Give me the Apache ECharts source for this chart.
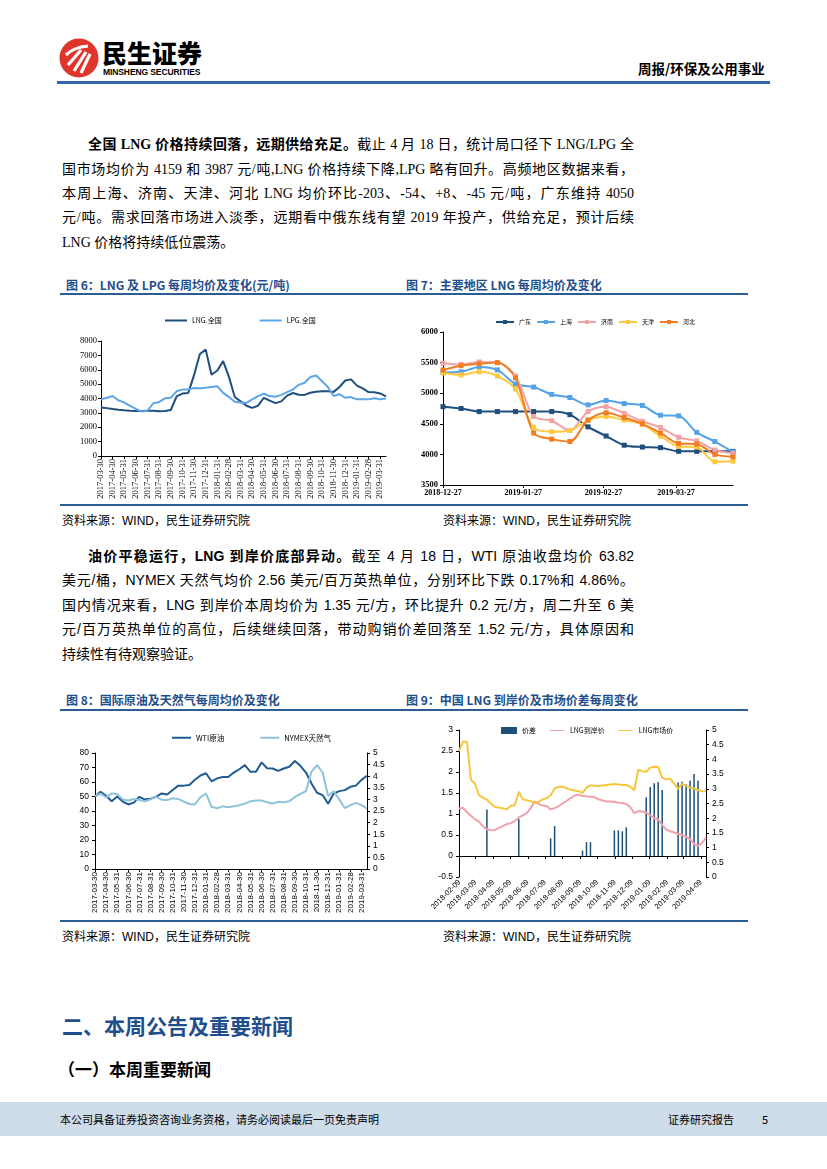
<!DOCTYPE html>
<html><head><meta charset="utf-8">
<script src="https://cdn.jsdelivr.net/npm/echarts@6/dist/echarts.min.js"></script>
<style>
body{margin:0;background:#fff;}
#page{position:relative;width:827px;height:1169px;overflow:hidden;font-family:"Noto Sans CJK SC",sans-serif;color:#000;background:#fff;}
.abs{position:absolute;white-space:nowrap;}
.ln{position:absolute;left:62px;width:572px;height:24px;font-size:14px;line-height:24px;text-align:justify;text-align-last:justify;overflow:visible;}
.p1{font-family:"Liberation Serif","Noto Sans CJK SC",serif;}
.p2{font-family:"Liberation Sans","Noto Sans CJK SC",sans-serif;}
.last{text-align-last:left;}
.ttl{position:absolute;font-size:12px;font-weight:700;color:#1F4E8C;white-space:nowrap;line-height:14px;}
.rule{position:absolute;left:60px;width:688px;height:2px;background:#2B5D93;}
.src{position:absolute;font-size:12px;line-height:14px;white-space:nowrap;font-family:"Liberation Sans","Noto Sans CJK SC",sans-serif;}
.chart{position:absolute;}
</style></head>
<body><div id="page">
<!-- header -->
<svg class="abs" style="left:59px;top:38px" width="40" height="40" viewBox="0 0 40 40">
<circle cx="20" cy="20" r="19.5" fill="#E0352B"/>
<path d="M7 17 Q15 9 29 8" stroke="#fff" stroke-width="3.2" fill="none"/>
<path d="M9 27 L22 12" stroke="#fff" stroke-width="3.2" fill="none"/>
<path d="M15 33 L27 14" stroke="#fff" stroke-width="3.2" fill="none"/>
<path d="M22 35 L31 16" stroke="#fff" stroke-width="3.2" fill="none"/>
</svg>
<div class="abs" style="left:102px;top:38px;font-size:25px;line-height:28px;font-weight:900;">民生证券</div>
<div class="abs" style="left:103px;top:68px;font-size:8.5px;line-height:9px;font-weight:700;font-family:'Liberation Sans',sans-serif;letter-spacing:-0.1px;">MINSHENG SECURITIES</div>
<div class="abs" style="left:638px;top:60px;font-size:13.5px;line-height:16px;font-weight:700;">周报/环保及公用事业</div>
<div class="abs" style="left:57px;top:81px;width:713px;height:3px;background:#3366A6;"></div>

<!-- paragraph 1 -->
<div class="ln p1" style="top:133px;left:88px;width:546px;"><b>全国 LNG 价格持续回落，远期供给充足。</b>截止 4 月 18 日，统计局口径下 LNG/LPG 全</div>
<div class="ln p1" style="top:158px;">国市场均价为 4159 和 3987 元/吨,LNG 价格持续下降,LPG 略有回升。高频地区数据来看，</div>
<div class="ln p1" style="top:182px;">本周上海、济南、天津、河北 LNG 均价环比-203、-54、+8、-45 元/吨，广东维持 4050</div>
<div class="ln p1" style="top:206px;">元/吨。需求回落市场进入淡季，远期看中俄东线有望 2019 年投产，供给充足，预计后续</div>
<div class="ln p1 last" style="top:231px;">LNG 价格将持续低位震荡。</div>

<!-- chart 6/7 titles -->
<div class="ttl" style="left:66px;top:278px;">图 6：LNG 及 LPG 每周均价及变化(元/吨)</div>
<div class="ttl" style="left:406px;top:278px;">图 7：主要地区 LNG 每周均价及变化</div>
<div class="rule" style="top:293px;"></div>
<div id="c6" class="chart" style="left:60px;top:298px;width:335px;height:207px;"></div>
<div id="c7" class="chart" style="left:400px;top:298px;width:355px;height:207px;"></div>
<div class="rule" style="top:504px;"></div>
<div class="src" style="left:62px;top:514px;">资料来源：WIND，民生证券研究院</div>
<div class="src" style="left:443px;top:514px;">资料来源：WIND，民生证券研究院</div>

<!-- paragraph 2 -->
<div class="ln p2" style="top:544px;left:88px;width:546px;"><b>油价平稳运行，LNG 到岸价底部异动。</b>截至 4 月 18 日，WTI 原油收盘均价 63.82</div>
<div class="ln p2" style="top:568px;">美元/桶，NYMEX 天然气均价 2.56 美元/百万英热单位，分别环比下跌 0.17%和 4.86%。</div>
<div class="ln p2" style="top:593px;">国内情况来看，LNG 到岸价本周均价为 1.35 元/方，环比提升 0.2 元/方，周二升至 6 美</div>
<div class="ln p2" style="top:617px;">元/百万英热单位的高位，后续继续回落，带动购销价差回落至 1.52 元/方，具体原因和</div>
<div class="ln p2 last" style="top:642px;">持续性有待观察验证。</div>

<!-- chart 8/9 titles -->
<div class="ttl" style="left:66px;top:693px;">图 8：国际原油及天然气每周均价及变化</div>
<div class="ttl" style="left:406px;top:693px;">图 9：中国 LNG 到岸价及市场价差每周变化</div>
<div class="rule" style="top:709px;"></div>
<div id="c8" class="chart" style="left:60px;top:712px;width:340px;height:208px;"></div>
<div id="c9" class="chart" style="left:400px;top:712px;width:355px;height:208px;"></div>
<div class="rule" style="top:920px;"></div>
<div class="src" style="left:62px;top:930px;">资料来源：WIND，民生证券研究院</div>
<div class="src" style="left:443px;top:930px;">资料来源：WIND，民生证券研究院</div>

<!-- headings -->
<div class="abs" style="left:62px;top:1012px;font-size:21px;line-height:26px;font-weight:700;color:#1F4E8C;">二、本周公告及重要新闻</div>
<div class="abs" style="left:58px;top:1058px;font-size:17px;line-height:22px;font-weight:700;">（一）本周重要新闻</div>

<!-- footer -->
<div class="abs" style="left:0;top:1102px;width:827px;height:34px;background:#CEDBE9;"></div>
<div class="abs" style="left:60px;top:1112px;font-size:11px;line-height:14px;">本公司具备证券投资咨询业务资格，请务必阅读最后一页免责声明</div>
<div class="abs" style="left:668px;top:1112px;font-size:11px;line-height:14px;">证券研究报告</div>
<div class="abs" style="left:762px;top:1112px;font-size:11px;line-height:14px;">5</div>
</div>
<script>
// ---------- data ----------
const halfMonthDates = ['2017-03-30','2017-04-15','2017-04-30','2017-05-15','2017-05-31','2017-06-15','2017-06-30','2017-07-15','2017-07-31','2017-08-15','2017-08-31','2017-09-15','2017-09-30','2017-10-15','2017-10-31','2017-11-15','2017-11-30','2017-12-15','2017-12-31','2018-01-15','2018-01-31','2018-02-15','2018-02-28','2018-03-15','2018-03-31','2018-04-15','2018-04-30','2018-05-15','2018-05-31','2018-06-15','2018-06-30','2018-07-15','2018-07-31','2018-08-15','2018-08-31','2018-09-15','2018-09-30','2018-10-15','2018-10-31','2018-11-15','2018-11-30','2018-12-15','2018-12-31','2019-01-15','2019-01-31','2019-02-15','2019-02-28','2019-03-15','2019-03-31','2019-04-15'];
const lngNational = [3380,3330,3270,3220,3180,3150,3130,3130,3150,3150,3110,3130,3200,4150,4340,4390,5630,7100,7400,5650,5950,6600,5500,4100,3800,3500,3350,3500,4050,3850,3680,3800,4200,4380,4260,4250,4400,4470,4500,4500,4460,4800,5250,5330,4900,4700,4450,4440,4350,4150];
const lpgNational = [3940,4050,4170,3870,3720,3490,3270,3090,3150,3670,3760,4010,4050,4500,4620,4620,4730,4710,4750,4800,4850,4390,4100,3780,3720,3690,3940,4170,4330,4170,4120,4250,4440,4620,4950,5100,5500,5600,5200,4800,4170,4300,4050,4100,3940,3940,3940,4010,3940,4000];

const c7Dates = ['2018-12-27','2019-01-03','2019-01-10','2019-01-17','2019-01-24','2019-01-31','2019-02-07','2019-02-14','2019-02-21','2019-02-28','2019-03-07','2019-03-14','2019-03-21','2019-03-28','2019-04-04','2019-04-11','2019-04-18'];
const c7TickLabels = ['2018-12-27','2019-01-27','2019-02-27','2019-03-27'];
const guangdong = [4780,4750,4700,4700,4700,4700,4700,4650,4450,4300,4150,4120,4110,4050,4050,4050,4050];
const shanghai  = [5340,5350,5430,5380,5150,5100,4980,4930,4810,4880,4830,4800,4640,4630,4360,4210,4040];
const jinan     = [5490,5470,5510,5500,5280,4620,4550,4390,4700,4780,4670,4540,4440,4280,4220,4070,4020];
const tianjin   = [5330,5300,5350,5280,5070,4440,4370,4390,4560,4620,4560,4490,4300,4130,4120,3880,3890];
const hebei     = [5380,5450,5480,5500,5250,4350,4250,4210,4560,4680,4600,4500,4350,4180,4170,4000,3960];

const wtiOil = [49.8,53.3,50.5,46.7,50.0,46.5,44.5,45.8,49.8,47.9,48.4,49.8,52.1,51.4,54.5,57.5,57.5,58.0,61.5,64.5,66.0,60.5,62.5,63.5,63.5,66.5,68.8,71.6,67.0,67.0,73.5,69.5,69.3,67.7,69.3,70.5,74.5,71.2,66.5,59.0,52.6,51.0,45.0,52.0,53.7,54.4,56.7,57.5,61.5,64.3];
const nymexGas = [3.14,3.25,3.08,3.26,3.22,3.00,2.95,3.02,2.97,2.92,3.00,3.11,2.99,2.97,3.05,3.02,2.90,2.80,2.78,3.10,3.25,2.68,2.62,2.70,2.66,2.70,2.75,2.82,2.92,2.95,2.95,2.88,2.82,2.90,2.88,2.92,3.10,3.24,3.35,4.20,4.48,4.16,3.15,3.35,3.00,2.63,2.75,2.85,2.75,2.60];

const c9Dates = ['2018-02-08','2018-02-15','2018-02-22','2018-03-01','2018-03-08','2018-03-15','2018-03-22','2018-03-29','2018-04-05','2018-04-12','2018-04-19','2018-04-26','2018-05-03','2018-05-10','2018-05-17','2018-05-24','2018-05-31','2018-06-07','2018-06-14','2018-06-21','2018-06-28','2018-07-05','2018-07-12','2018-07-19','2018-07-26','2018-08-02','2018-08-09','2018-08-16','2018-08-23','2018-08-30','2018-09-06','2018-09-13','2018-09-20','2018-09-27','2018-10-04','2018-10-11','2018-10-18','2018-10-25','2018-11-01','2018-11-08','2018-11-15','2018-11-22','2018-11-29','2018-12-06','2018-12-13','2018-12-20','2018-12-27','2019-01-03','2019-01-10','2019-01-17','2019-01-24','2019-01-31','2019-02-07','2019-02-14','2019-02-21','2019-02-28','2019-03-07','2019-03-14','2019-03-21','2019-03-28','2019-04-04','2019-04-11','2019-04-18'];
const c9TickLabels = ['2018-02-09','2018-03-09','2018-04-09','2018-05-09','2018-06-09','2018-07-09','2018-08-09','2018-09-09','2018-10-09','2018-11-09','2018-12-09','2019-01-09','2019-02-09','2019-03-09','2019-04-09'];
const priceSpread = [0,0,0,0,0,0,0,1.11,0,0,0,0,0,0,0,0.88,0,0,0,0,0,0,0,0.42,0.71,0,0,0,0,0,0,0.13,0.33,0.33,0,0,0,0,0,0.61,0.61,0.59,0.68,0,0,0,0,1.40,1.64,1.73,1.76,1.57,0,0,0,1.75,1.77,1.71,1.80,1.95,1.80,0,0];
const lngLanded = [1.13,1.15,1.04,0.96,0.88,0.82,0.71,0.63,0.61,0.62,0.67,0.71,0.76,0.78,0.83,0.92,0.97,1.02,1.14,1.30,1.24,1.20,1.19,1.11,1.14,1.19,1.25,1.31,1.38,1.44,1.46,1.43,1.42,1.41,1.40,1.35,1.32,1.30,1.30,1.29,1.27,1.26,1.24,1.16,1.02,1.07,1.06,1.03,0.97,0.90,0.87,0.74,0.63,0.59,0.56,0.53,0.50,0.46,0.40,0.28,0.24,0.31,0.44];
const lngMarket = [4.28,4.60,4.60,3.30,3.18,2.78,2.70,2.63,2.50,2.38,2.36,2.34,2.30,2.42,2.44,2.90,2.64,2.61,2.58,2.52,2.56,2.64,2.68,2.78,3.01,3.07,3.07,3.02,2.97,2.94,2.92,2.86,3.04,3.12,3.10,3.09,3.11,3.13,3.15,3.16,3.15,3.13,3.13,3.08,2.95,3.65,3.60,3.58,3.72,3.75,3.74,3.38,3.32,3.35,3.18,3.00,3.17,3.10,3.04,3.01,2.95,2.92,2.92];

// ---------- helpers ----------
const BLACK = '#000';
const SERIF = 'Liberation Serif';
const SANS = 'Liberation Sans';
const CJK = 'Noto Sans CJK SC';
const ts = s => echarts.number.parseDate(s).getTime();
function labelFromTicks(labels){
  const vals = labels.map(ts);
  return {vals, fmt: v => { let best=0, d=Infinity; vals.forEach((t,i)=>{ const dd=Math.abs(t-v); if(dd<d){d=dd;best=i;} }); return labels[best]; }};
}
const plain = v => String(v);
const axisLineBlack = {show:true, lineStyle:{color:BLACK, width:1}};
const tickBlack = {show:true, length:3, lineStyle:{color:BLACK, width:1}};
// thin line-shaped legend icon inside a taller box (keeps text alignment)
const THIN_LINE_ICON = 'path://M0,0L0.01,0M0,4.2L20,4.2L20,5.8L0,5.8ZM20,10L19.99,10';

// ---------- chart 6 ----------
const c6 = echarts.init(document.getElementById('c6'));
c6.setOption({
  animation:false,
  legend:{left:100, top:14, itemWidth:22, itemHeight:2, itemGap:38, icon:'rect',
    textStyle:{fontSize:7, fontFamily:CJK, color:BLACK}, data:['LNG.全国','LPG.全国']},
  grid:{left:41, right:9, top:43, bottom:49},
  xAxis:{type:'category', data:halfMonthDates, boundaryGap:false, axisLine:axisLineBlack,
    axisTick:{show:true, interval:1, length:3, lineStyle:{color:BLACK}},
    axisLabel:{interval:1, rotate:90, fontSize:8.5, fontFamily:SERIF, color:BLACK, margin:3}},
  yAxis:{type:'value', min:0, max:8000, interval:1000, splitLine:{show:false}, axisLine:axisLineBlack,
    axisTick:tickBlack, axisLabel:{formatter:plain, fontSize:8.5, fontFamily:SERIF, color:BLACK, margin:4}},
  series:[
    {name:'LNG.全国', type:'line', data:lngNational, symbol:'none', lineStyle:{width:2, color:'#1E4F7E'}, itemStyle:{color:'#1E4F7E'}},
    {name:'LPG.全国', type:'line', data:lpgNational, symbol:'none', lineStyle:{width:2, color:'#5CA6E8'}, itemStyle:{color:'#5CA6E8'}}
  ]
});

// ---------- chart 7 ----------
const c7 = echarts.init(document.getElementById('c7'));
const t7 = labelFromTicks(c7TickLabels);
const c7Series = [
  ['广东', guangdong, '#1E4F7E'],
  ['上海', shanghai, '#55A3E6'],
  ['济南', jinan, '#F2A3A3'],
  ['天津', tianjin, '#FFC83D'],
  ['河北', hebei, '#F27C22']
];
c7.setOption({
  animation:false,
  legend:{left:90, top:16, itemWidth:18, itemHeight:5, itemGap:5,
    textStyle:{fontSize:6, fontFamily:CJK, color:BLACK}, data:c7Series.map(s=>s[0])},
  grid:{left:43, right:22, top:34, bottom:20},
  xAxis:{type:'value', min:ts(c7Dates[0]), max:ts(c7Dates[c7Dates.length-1]), splitLine:{show:false},
    axisLine:axisLineBlack, axisTick:{show:true, customValues:t7.vals, length:3, lineStyle:{color:BLACK}},
    axisLabel:{customValues:t7.vals, formatter:t7.fmt, fontSize:8, fontWeight:'bold', fontFamily:SERIF, color:BLACK, margin:4, showMinLabel:true, showMaxLabel:true}},
  yAxis:{type:'value', min:3500, max:6000, interval:500, splitLine:{show:false}, axisLine:axisLineBlack,
    axisTick:tickBlack, axisLabel:{formatter:plain, fontSize:8.5, fontWeight:'bold', fontFamily:SERIF, color:BLACK, margin:5}},
  series:c7Series.map(([name, vals, color]) => ({
    name, type:'line', smooth:0.3, symbol:'rect', symbolSize:5,
    data:c7Dates.map((d,i)=>[ts(d), vals[i]]),
    lineStyle:{width:2, color}, itemStyle:{color}
  }))
});

// ---------- chart 8 ----------
const c8 = echarts.init(document.getElementById('c8'));
c8.setOption({
  animation:false,
  legend:{left:107, top:17, itemWidth:19, itemHeight:2, itemGap:36, icon:'rect',
    textStyle:{fontSize:7.5, fontFamily:CJK, color:BLACK}, data:['WTI原油','NYMEX天然气']},
  grid:{left:35, right:33, top:41, bottom:51},
  xAxis:{type:'category', data:halfMonthDates, boundaryGap:false, axisLine:axisLineBlack,
    axisTick:{show:true, interval:1, length:3, lineStyle:{color:BLACK}},
    axisLabel:{interval:1, rotate:90, fontSize:8, fontFamily:SANS, color:BLACK, margin:3}},
  yAxis:[
    {type:'value', min:0, max:80, interval:10, splitLine:{show:false}, axisLine:axisLineBlack, axisTick:tickBlack,
      axisLabel:{formatter:plain, fontSize:8.5, fontFamily:SANS, color:BLACK, margin:6}},
    {type:'value', min:0, max:5, interval:0.5, splitLine:{show:false}, axisLine:axisLineBlack, axisTick:tickBlack,
      axisLabel:{formatter:plain, fontSize:8.5, fontFamily:SANS, color:BLACK, margin:6}}
  ],
  series:[
    {name:'WTI原油', type:'line', data:wtiOil, symbol:'none', lineStyle:{width:2, color:'#1F5A92'}, itemStyle:{color:'#1F5A92'}},
    {name:'NYMEX天然气', type:'line', yAxisIndex:1, data:nymexGas, symbol:'none', lineStyle:{width:2, color:'#8DC4DA'}, itemStyle:{color:'#8DC4DA'}}
  ]
});

// ---------- chart 9 ----------
const c9 = echarts.init(document.getElementById('c9'));
const t9 = labelFromTicks(c9TickLabels);
const x9min = ts(c9Dates[0]), x9max = ts(c9Dates[c9Dates.length-1]);
c9.setOption({
  animation:false,
  legend:{left:96, top:10, itemWidth:16, itemHeight:7, itemGap:14,
    textStyle:{fontSize:7, fontFamily:CJK, color:BLACK},
    data:[{name:'价差', icon:'rect'}, {name:'LNG到岸价', icon:THIN_LINE_ICON}, {name:'LNG市场价', icon:THIN_LINE_ICON}]},
  grid:{left:59, right:49, top:18, bottom:43},
  xAxis:[
    {type:'value', min:x9min, max:x9max, position:'bottom', splitLine:{show:false},
      axisLine:{show:false, onZero:false}, axisTick:{show:false},
      axisLabel:{customValues:t9.vals, formatter:t9.fmt, rotate:45, fontSize:7.5, fontFamily:SANS, color:BLACK, margin:4}},
    {type:'value', min:x9min, max:x9max, position:'top', splitLine:{show:false},
      axisLine:{show:true, onZero:true, onZeroAxisIndex:0, lineStyle:{color:BLACK}},
      axisTick:{show:true, inside:true, customValues:t9.vals, length:3, lineStyle:{color:BLACK}},
      axisLabel:{show:false}}
  ],
  yAxis:[
    {type:'value', min:-0.5, max:3, interval:0.5, splitLine:{show:false}, axisLine:axisLineBlack, axisTick:tickBlack,
      axisLabel:{formatter:plain, fontSize:8.5, fontFamily:SANS, color:BLACK, margin:6}},
    {type:'value', min:0, max:5, interval:0.5, splitLine:{show:false}, axisLine:axisLineBlack, axisTick:tickBlack,
      axisLabel:{formatter:plain, fontSize:8.5, fontFamily:SANS, color:BLACK, margin:6}}
  ],
  series:[
    {name:'价差', type:'bar', xAxisIndex:0, yAxisIndex:0, barWidth:1.5, data:c9Dates.map((d,i)=>[ts(d), priceSpread[i]]), itemStyle:{color:'#1F4E79'}},
    {name:'LNG到岸价', type:'line', xAxisIndex:0, yAxisIndex:0, symbol:'none', data:c9Dates.map((d,i)=>[ts(d), lngLanded[i]]), lineStyle:{width:2, color:'#F2A1AA'}, itemStyle:{color:'#F2A1AA'}},
    {name:'LNG市场价', type:'line', xAxisIndex:0, yAxisIndex:1, symbol:'none', data:c9Dates.map((d,i)=>[ts(d), lngMarket[i]]), lineStyle:{width:2, color:'#F8C63E'}, itemStyle:{color:'#F8C63E'}}
  ]
});
</script>
</body></html>
